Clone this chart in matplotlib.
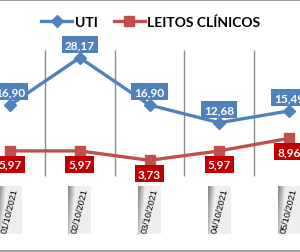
import numpy as np
import matplotlib
matplotlib.use("Agg")
import matplotlib.pyplot as plt
from matplotlib.lines import Line2D

dates = ["01/10/2021", "02/10/2021", "03/10/2021", "04/10/2021", "05/10/2021"]
uti = [16.90, 28.17, 16.90, 12.68, 15.49]
leitos = [5.97, 5.97, 3.73, 5.97, 8.96]

BLUE = "#4F81BD"
RED_LINE = "#C0504D"
RED_BOX = "#C00000"

fig = plt.figure(figsize=(3.0, 2.53), dpi=100)
ax = fig.add_axes([0, 0, 1, 1])
ax.axis("off")

x = np.arange(len(dates))

# category separators
ax.vlines(x[:-1] + 0.5, 0, 30, color="#8c8c8c", lw=1.0, zorder=1)

# chart border (top/bottom visible in crop)
ax.axhline(41.8, color="#8c8c8c", lw=1.2)
ax.axhline(-17.75, color="#8c8c8c", lw=1.2)

ax.plot(x, uti, color=BLUE, lw=2.4, marker="D", ms=6, zorder=3, clip_on=False)
ax.plot(x, leitos, color=RED_LINE, lw=2.4, marker="s", ms=7, zorder=3, clip_on=False)

for xi, v in zip(x, uti):
    ax.annotate(f"{v:.2f}".replace(".", ","), (xi, v), xytext=(0, 9.5),
                textcoords="offset points", ha="center", va="center",
                color="white", fontsize=8.5, fontweight="bold", family="Lato",
                bbox=dict(boxstyle="square,pad=0.25", fc=BLUE, ec="none"),
                zorder=4, annotation_clip=False)

for xi, v in zip(x, leitos):
    ax.annotate(f"{v:.2f}".replace(".", ","), (xi, v), xytext=(0, -9.5),
                textcoords="offset points", ha="center", va="center",
                color="white", fontsize=8.5, fontweight="bold", family="Lato",
                bbox=dict(boxstyle="square,pad=0.25", fc=RED_BOX, ec="none"),
                zorder=4, annotation_clip=False)

# date labels with shaded box
uu, vv = np.meshgrid(np.linspace(0, 1, 40), np.linspace(0, 1, 80))
grad = np.clip(0.5 + 1.3 * uu + 0.25 * vv, 0.5, 0.94)
grad = np.where(uu - 0.3 * vv > 0.3, 0.93, grad)
for xi, d in zip(x, dates):
    ax.imshow(grad, cmap="gray", vmin=0, vmax=1, aspect="auto",
              extent=[xi - 0.164, xi + 0.164, -13.8, -2.38], zorder=2)
    ax.text(xi, -8.1, d, rotation=76, ha="center", va="center",
            fontsize=6.6, family="Liberation Sans", color="black", zorder=3)
ax.set_xlim(-0.143, 4.157)
ax.set_ylim(-18.1, 42.14)

handles = [Line2D([], [], color=BLUE, lw=2.4, marker="D", ms=6),
           Line2D([], [], color=RED_LINE, lw=2.4, marker="s", ms=7)]
ax.legend(handles, ["UTI", "LEITOS CLÍNICOS"], loc="center",
          bbox_to_anchor=(0.503, 0.91), ncol=2, frameon=False,
          handlelength=2.2, handletextpad=0.2, columnspacing=1.2,
          prop=dict(family="Lato", weight="bold", size=10))

fig.savefig("out.png", dpi=100)
